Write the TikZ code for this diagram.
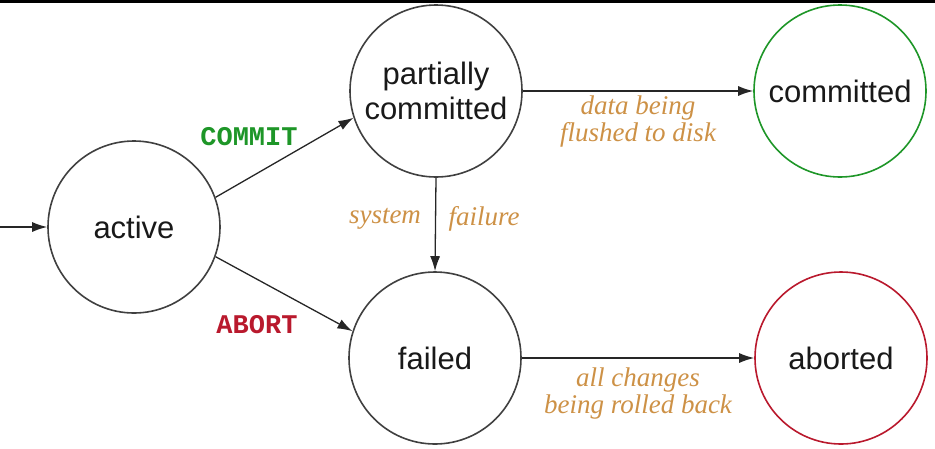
\documentclass[tikz,border=0pt]{standalone}
\usepackage{fontspec}
\setmainfont{Liberation Sans}
\newfontfamily\lblserif{Liberation Serif}
\newfontfamily\lblmono{Liberation Mono}
\usetikzlibrary{arrows.meta}
\definecolor{okgreen}{RGB}{30,150,40}
\definecolor{badred}{RGB}{185,25,45}
\definecolor{tan}{RGB}{205,145,70}
\definecolor{txt}{RGB}{25,25,25}
\begin{document}
\begin{tikzpicture}[x=1pt,y=-1pt,
  state/.style={circle,draw=black!75,line width=1.6pt,minimum size=172pt,inner sep=0pt,
    align=center,text=txt,font=\fontsize{31}{35}\selectfont},
  conn/.style={line width=1.3pt,draw=black!85,-{Latex[length=15pt,width=10pt]}},
  note/.style={text=tan,align=center,font=\lblserif\itshape\fontsize{27}{27}\selectfont,inner sep=0pt},
  cmd/.style={font=\lblmono\bfseries\fontsize{27}{27}\selectfont,inner sep=0pt}]
\useasboundingbox (0,0) rectangle (935,448);
\fill[black] (0,0) rectangle (935,3);
\node[state] (active) at (134,227) {active};
\node[state] (pc) at (436,91) {partially\\committed};
\node[state,draw=okgreen] (committed) at (840,91) {committed};
\node[state] (failed) at (435,358) {failed};
\node[state,draw=badred] (aborted) at (841,358) {aborted};
\coordinate (start) at (0,227);
\draw[conn] (start) -- (active.west);
\draw[conn] (active.20) -- (pc.198);
\draw[conn] (active.-20) -- (failed.162);
\draw[conn] (pc.south) -- (failed.north);
\draw[conn] (pc.east) -- (committed.west);
\draw[conn] (failed.east) -- (aborted.west);
\node[cmd,text=okgreen] (lcommit) at (249,137) {COMMIT};
\node[cmd,text=badred] (labort) at (257,325) {ABORT};
\node[note] (lsys) at (385,219) {system};
\node[note] (lfail) at (484,219) {failure};
\node[note] (lflush) at (638,122) {data being\\flushed to disk};
\node[note] (lroll) at (638,393) {all changes\\being rolled back};
\end{tikzpicture}
\end{document}
